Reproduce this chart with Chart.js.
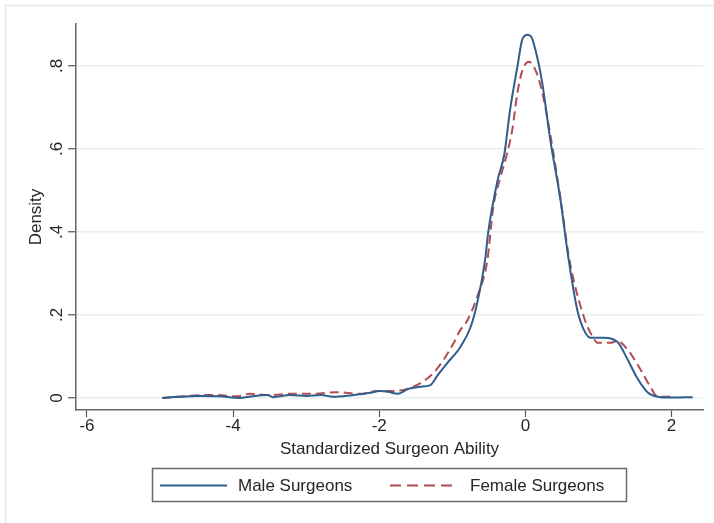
<!DOCTYPE html>
<html>
<head>
<meta charset="utf-8">
<script src="https://cdn.jsdelivr.net/npm/chart.js@4/dist/chart.umd.min.js"></script>
<style>
  html, body { margin: 0; padding: 0; background: #ffffff; }
  #wrap { width: 714px; height: 523px; position: relative; }
</style>
</head>
<body>
<div id="wrap"><canvas id="c" width="714" height="523"></canvas></div>
<script>
// ---- Data ----
const seriesNames = ["Male Surgeons", "Female Surgeons"];

const maleX = [-4.97, -4.45, -4.2, -3.9, -3.7, -3.53, -3.45, -3.22, -3.0, -2.8, -2.63, -2.4, -2.26, -2.1, -2.0, -1.88, -1.75, -1.6, -1.44, -1.3, -1.2, -1.07, -0.89, -0.75, -0.66, -0.55, -0.51, -0.38, -0.29, -0.21, -0.11, -0.04, 0.03, 0.08, 0.16, 0.23, 0.34, 0.48, 0.59, 0.71, 0.8, 0.89, 1.07, 1.26, 1.4, 1.53, 1.67, 1.85, 2.0, 2.29];
const maleY = [0.0, 0.005, 0.004, 0.0, 0.005, 0.007, 0.002, 0.007, 0.005, 0.007, 0.003, 0.006, 0.009, 0.013, 0.017, 0.015, 0.01, 0.022, 0.027, 0.031, 0.055, 0.084, 0.123, 0.171, 0.229, 0.335, 0.398, 0.525, 0.586, 0.694, 0.798, 0.865, 0.875, 0.87, 0.822, 0.759, 0.622, 0.477, 0.335, 0.212, 0.164, 0.145, 0.145, 0.135, 0.092, 0.048, 0.014, 0.002, 0.001, 0.002];

const femaleX = [-4.97, -4.68, -4.4, -4.22, -3.95, -3.77, -3.5, -3.22, -2.9, -2.58, -2.26, -2.03, -1.8, -1.58, -1.4, -1.26, -1.12, -0.98, -0.89, -0.8, -0.66, -0.52, -0.44, -0.34, -0.25, -0.18, -0.11, -0.04, 0.05, 0.16, 0.25, 0.34, 0.48, 0.59, 0.66, 0.8, 0.89, 0.99, 1.16, 1.26, 1.4, 1.58, 1.71, 1.81, 2.0];
const femaleY = [0.0, 0.004, 0.007, 0.007, 0.004, 0.01, 0.007, 0.01, 0.01, 0.014, 0.01, 0.017, 0.017, 0.024, 0.04, 0.06, 0.092, 0.133, 0.164, 0.185, 0.244, 0.333, 0.46, 0.533, 0.59, 0.646, 0.735, 0.79, 0.81, 0.78, 0.72, 0.635, 0.48, 0.345, 0.284, 0.195, 0.157, 0.133, 0.133, 0.137, 0.116, 0.067, 0.027, 0.003, 0.003];

const xTickValues = [-6, -4, -2, 0, 2];
const yTickValues = [0, 0.2, 0.4, 0.6, 0.8];
const yTickLabels = ["0", ".2", ".4", ".6", ".8"];
const xTitle = "Standardized Surgeon Ability";
const yTitle = "Density";

// ---- Styling ----
const MALE_COLOR = "#2f5d8c";
const FEMALE_COLOR = "#b24c55";
const FEMALE_DASH = [9, 5];
const FONT = "'Liberation Sans', Arial, Helvetica, sans-serif";
const TEXT = "#262626";

const toPts = (xs, ys) => xs.map((x, i) => ({ x: x, y: ys[i] }));

const framePlugin = {
  id: "frame",
  beforeDraw(chart) {
    const ctx = chart.ctx;
    ctx.save();
    ctx.strokeStyle = "#e9efef";
    ctx.lineWidth = 2;
    ctx.beginPath();
    ctx.moveTo(4, 5.5); ctx.lineTo(714, 5.5);
    ctx.moveTo(5.5, 5); ctx.lineTo(5.5, 523);
    ctx.stroke();
    ctx.restore();
  }
};

const legendPlugin = {
  id: "boxLegend",
  afterDraw(chart) {
    const ctx = chart.ctx;
    ctx.save();
    ctx.strokeStyle = "#6a6a6a";
    ctx.lineWidth = 1.5;
    ctx.strokeRect(152.5, 468.5, 474, 33);
    const ly = 485.5;
    // male
    ctx.strokeStyle = MALE_COLOR;
    ctx.lineWidth = 2;
    ctx.setLineDash([]);
    ctx.beginPath(); ctx.moveTo(160, ly); ctx.lineTo(227, ly); ctx.stroke();
    // female
    ctx.strokeStyle = FEMALE_COLOR;
    ctx.setLineDash([11, 6]);
    ctx.beginPath(); ctx.moveTo(390, ly); ctx.lineTo(458, ly); ctx.stroke();
    ctx.setLineDash([]);
    ctx.fillStyle = TEXT;
    ctx.font = "17px " + FONT;
    ctx.textBaseline = "middle";
    ctx.textAlign = "left";
    ctx.fillText(seriesNames[0], 238, ly + 1);
    ctx.fillText(seriesNames[1], 470, ly + 1);
    ctx.restore();
  }
};

new Chart(document.getElementById("c"), {
  type: "line",
  data: {
    datasets: [
      {
        label: seriesNames[0],
        data: toPts(maleX, maleY),
        borderColor: MALE_COLOR,
        borderWidth: 2,
        pointRadius: 0,
        fill: false,
        cubicInterpolationMode: "monotone"
      },
      {
        label: seriesNames[1],
        data: toPts(femaleX, femaleY),
        borderColor: FEMALE_COLOR,
        borderWidth: 2,
        borderDash: FEMALE_DASH,
        pointRadius: 0,
        fill: false,
        cubicInterpolationMode: "monotone"
      }
    ]
  },
  options: {
    responsive: false,
    animation: false,
    events: [],
    layout: { padding: { left: 0, top: 24, right: 11, bottom: 0 } },
    plugins: { legend: { display: false }, tooltip: { enabled: false } },
    scales: {
      x: {
        type: "linear",
        min: -6.15,
        max: 2.43,
        afterBuildTicks: (s) => { s.ticks = xTickValues.map(v => ({ value: v })); },
        afterFit: (s) => { s.height = 113; },
        grid: { display: true, drawOnChartArea: false, drawTicks: true, tickLength: 7, tickColor: "#555", tickWidth: 1.2 },
        border: { display: true, color: "#666", width: 1.5 },
        ticks: {
          autoSkip: false,
          maxRotation: 0,
          padding: 1,
          color: TEXT,
          font: { family: FONT, size: 17, lineHeight: 1 },
          callback: (v) => String(v)
        },
        title: {
          display: true,
          text: xTitle,
          color: TEXT,
          font: { family: FONT, size: 17, lineHeight: 1.2 },
          padding: { top: 0, bottom: 63.8 }
        }
      },
      y: {
        type: "linear",
        min: -0.029,
        max: 0.901,
        afterBuildTicks: (s) => { s.ticks = yTickValues.map(v => ({ value: v })); },
        afterFit: (s) => { s.width = 76; },
        grid: { display: true, drawOnChartArea: true, drawTicks: true, tickLength: 8, color: "#e8efef", lineWidth: 1.5, tickColor: "#555", tickWidth: 1.2 },
        border: { display: true, color: "#666", width: 1.5 },
        ticks: {
          autoSkip: false,
          minRotation: 90,
          maxRotation: 90,
          crossAlign: "center",
          padding: 4,
          color: TEXT,
          font: { family: FONT, size: 17, lineHeight: 1 },
          callback: (v) => {
            const i = yTickValues.findIndex(t => Math.abs(t - v) < 1e-9);
            return i >= 0 ? yTickLabels[i] : "";
          }
        },
        title: {
          display: true,
          text: yTitle,
          color: TEXT,
          font: { family: FONT, size: 17, lineHeight: 1.2 },
          padding: { top: 25.8, bottom: 0 }
        }
      }
    }
  },
  plugins: [framePlugin, legendPlugin]
});
</script>
</body>
</html>
